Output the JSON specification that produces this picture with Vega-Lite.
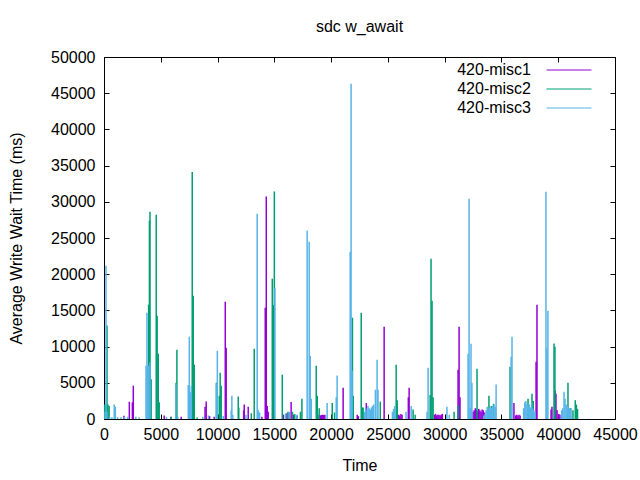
{
"$schema": "https://vega.github.io/schema/vega-lite/v6.json",
"width": 511, "height": 362,
"autosize": "none",
"padding": {"left": 104, "top": 57, "right": 25, "bottom": 61},
"background": "white",
"title": {"text": "sdc w_await", "fontSize": 16, "font": "Liberation Sans", "fontWeight": "normal", "color": "#000", "offset": 14, "anchor": "middle"},
"config": {
  "view": {"stroke": "#000", "strokeWidth": 1},
  "font": "Liberation Sans",
  "axis": {"domain": false, "grid": false, "tickColor": "#000", "tickSize": -5, "tickWidth": 1, "labelColor": "#000", "labelFontSize": 16, "titleFontSize": 16, "titleFontWeight": "normal", "titleColor": "#000", "labelFont": "Liberation Sans", "titleFont": "Liberation Sans", "labelOverlap": false, "labelFlush": false}
},
"data": {"values": [
{"s":"420-misc1","t":1760,"v":450},{"s":"420-misc1","t":2230,"v":2390},{"s":"420-misc1","t":2500,"v":2300},{"s":"420-misc1","t":2580,"v":4600},{"s":"420-misc1","t":4800,"v":250},{"s":"420-misc1","t":5300,"v":500},{"s":"420-misc1","t":5900,"v":300},{"s":"420-misc1","t":6800,"v":300},{"s":"420-misc1","t":8900,"v":1700},{"s":"420-misc1","t":9000,"v":2400},{"s":"420-misc1","t":9300,"v":400},{"s":"420-misc1","t":9700,"v":300},{"s":"420-misc1","t":10680,"v":16200},{"s":"420-misc1","t":10760,"v":9850},{"s":"420-misc1","t":12300,"v":1200},{"s":"420-misc1","t":12350,"v":2000},{"s":"420-misc1","t":12700,"v":1700},{"s":"420-misc1","t":13900,"v":300},{"s":"420-misc1","t":14200,"v":15370},{"s":"420-misc1","t":14290,"v":30740},{"s":"420-misc1","t":14380,"v":1800},{"s":"420-misc1","t":14460,"v":1000},{"s":"420-misc1","t":15800,"v":600},{"s":"420-misc1","t":16000,"v":700},{"s":"420-misc1","t":16100,"v":800},{"s":"420-misc1","t":16300,"v":900},{"s":"420-misc1","t":16480,"v":2340},{"s":"420-misc1","t":16700,"v":600},{"s":"420-misc1","t":17000,"v":500},{"s":"420-misc1","t":18950,"v":600},{"s":"420-misc1","t":19050,"v":500},{"s":"420-misc1","t":19150,"v":550},{"s":"420-misc1","t":19250,"v":600},{"s":"420-misc1","t":19350,"v":550},{"s":"420-misc1","t":19450,"v":600},{"s":"420-misc1","t":21060,"v":4320},{"s":"420-misc1","t":22300,"v":600},{"s":"420-misc1","t":22400,"v":400},{"s":"420-misc1","t":23100,"v":2200},{"s":"420-misc1","t":23500,"v":600},{"s":"420-misc1","t":24670,"v":12750},{"s":"420-misc1","t":25850,"v":600},{"s":"420-misc1","t":25950,"v":600},{"s":"420-misc1","t":26050,"v":500},{"s":"420-misc1","t":26150,"v":700},{"s":"420-misc1","t":26250,"v":600},{"s":"420-misc1","t":26800,"v":3000},{"s":"420-misc1","t":26870,"v":4320},{"s":"420-misc1","t":29100,"v":600},{"s":"420-misc1","t":29200,"v":700},{"s":"420-misc1","t":29300,"v":500},{"s":"420-misc1","t":29400,"v":600},{"s":"420-misc1","t":29500,"v":600},{"s":"420-misc1","t":29600,"v":500},{"s":"420-misc1","t":29700,"v":600},{"s":"420-misc1","t":29800,"v":700},{"s":"420-misc1","t":31180,"v":6800},{"s":"420-misc1","t":31270,"v":12750},{"s":"420-misc1","t":31350,"v":3000},{"s":"420-misc1","t":32500,"v":1000},{"s":"420-misc1","t":32600,"v":1200},{"s":"420-misc1","t":32700,"v":1500},{"s":"420-misc1","t":32800,"v":1300},{"s":"420-misc1","t":32900,"v":1100},{"s":"420-misc1","t":33000,"v":1400},{"s":"420-misc1","t":33100,"v":1200},{"s":"420-misc1","t":33200,"v":1000},{"s":"420-misc1","t":33300,"v":1300},{"s":"420-misc1","t":33400,"v":1200},{"s":"420-misc1","t":33500,"v":900},{"s":"420-misc1","t":36100,"v":2200},{"s":"420-misc1","t":36250,"v":500},{"s":"420-misc1","t":36350,"v":600},{"s":"420-misc1","t":36450,"v":500},{"s":"420-misc1","t":36550,"v":600},{"s":"420-misc1","t":36650,"v":500},{"s":"420-misc1","t":38050,"v":7900},{"s":"420-misc1","t":38130,"v":15790},{"s":"420-misc1","t":39370,"v":1300},{"s":"420-misc1","t":39450,"v":1700},{"s":"420-misc1","t":39720,"v":3900},{"s":"420-misc1","t":39800,"v":3500},{"s":"420-misc1","t":39900,"v":1200},{"s":"420-misc1","t":40050,"v":700},{"s":"420-misc1","t":40150,"v":600},
{"s":"420-misc2","t":60,"v":2000},{"s":"420-misc2","t":150,"v":2000},{"s":"420-misc2","t":264,"v":12930},{"s":"420-misc2","t":350,"v":2000},{"s":"420-misc2","t":450,"v":1800},{"s":"420-misc2","t":3930,"v":15790},{"s":"420-misc2","t":4000,"v":27380},{"s":"420-misc2","t":4050,"v":28630},{"s":"420-misc2","t":4150,"v":5500},{"s":"420-misc2","t":4600,"v":28200},{"s":"420-misc2","t":4680,"v":14270},{"s":"420-misc2","t":4780,"v":9020},{"s":"420-misc2","t":4860,"v":2300},{"s":"420-misc2","t":5900,"v":300},{"s":"420-misc2","t":6350,"v":5000},{"s":"420-misc2","t":6420,"v":9570},{"s":"420-misc2","t":7770,"v":34100},{"s":"420-misc2","t":7860,"v":17030},{"s":"420-misc2","t":7950,"v":7500},{"s":"420-misc2","t":8200,"v":200},{"s":"420-misc2","t":9900,"v":5000},{"s":"420-misc2","t":10150,"v":3200},{"s":"420-misc2","t":10230,"v":6400},{"s":"420-misc2","t":10320,"v":4600},{"s":"420-misc2","t":11820,"v":3100},{"s":"420-misc2","t":11870,"v":1600},{"s":"420-misc2","t":12970,"v":800},{"s":"420-misc2","t":13230,"v":9700},{"s":"420-misc2","t":14820,"v":19380},{"s":"420-misc2","t":14900,"v":15700},{"s":"420-misc2","t":14960,"v":15700},{"s":"420-misc2","t":15000,"v":31430},{"s":"420-misc2","t":15700,"v":6120},{"s":"420-misc2","t":16200,"v":1000},{"s":"420-misc2","t":16600,"v":1000},{"s":"420-misc2","t":16800,"v":700},{"s":"420-misc2","t":17300,"v":1000},{"s":"420-misc2","t":17430,"v":2800},{"s":"420-misc2","t":18690,"v":7360},{"s":"420-misc2","t":18780,"v":3200},{"s":"420-misc2","t":18950,"v":1500},{"s":"420-misc2","t":20100,"v":2200},{"s":"420-misc2","t":20300,"v":900},{"s":"420-misc2","t":21880,"v":13990},{"s":"420-misc2","t":21950,"v":3200},{"s":"420-misc2","t":22650,"v":14680},{"s":"420-misc2","t":22740,"v":1600},{"s":"420-misc2","t":22820,"v":1600},{"s":"420-misc2","t":24330,"v":2400},{"s":"420-misc2","t":25730,"v":7500},{"s":"420-misc2","t":25820,"v":2600},{"s":"420-misc2","t":27220,"v":1300},{"s":"420-misc2","t":27400,"v":600},{"s":"420-misc2","t":28720,"v":3300},{"s":"420-misc2","t":28800,"v":22130},{"s":"420-misc2","t":28890,"v":16340},{"s":"420-misc2","t":28980,"v":3000},{"s":"420-misc2","t":30830,"v":1000},{"s":"420-misc2","t":31180,"v":1900},{"s":"420-misc2","t":32850,"v":6950},{"s":"420-misc2","t":33900,"v":3200},{"s":"420-misc2","t":34100,"v":1800},{"s":"420-misc2","t":34300,"v":2100},{"s":"420-misc2","t":35760,"v":7230},{"s":"420-misc2","t":37340,"v":2800},{"s":"420-misc2","t":37690,"v":3500},{"s":"420-misc2","t":37800,"v":2500},{"s":"420-misc2","t":39630,"v":10440},{"s":"420-misc2","t":39710,"v":9980},{"s":"420-misc2","t":40860,"v":5010},{"s":"420-misc2","t":41100,"v":1500},{"s":"420-misc2","t":41300,"v":1200},{"s":"420-misc2","t":41500,"v":2600},{"s":"420-misc2","t":41600,"v":2000},{"s":"420-misc2","t":41700,"v":1400},
{"s":"420-misc3","t":100,"v":1000},{"s":"420-misc3","t":176,"v":21170},{"s":"420-misc3","t":250,"v":1000},{"s":"420-misc3","t":500,"v":250},{"s":"420-misc3","t":700,"v":250},{"s":"420-misc3","t":900,"v":2000},{"s":"420-misc3","t":1000,"v":1700},{"s":"420-misc3","t":1200,"v":250},{"s":"420-misc3","t":1500,"v":250},{"s":"420-misc3","t":1800,"v":300},{"s":"420-misc3","t":2100,"v":300},{"s":"420-misc3","t":2800,"v":300},{"s":"420-misc3","t":3100,"v":250},{"s":"420-misc3","t":3700,"v":7360},{"s":"420-misc3","t":3780,"v":14680},{"s":"420-misc3","t":3850,"v":7360},{"s":"420-misc3","t":3930,"v":7360},{"s":"420-misc3","t":4050,"v":7800},{"s":"420-misc3","t":5500,"v":300},{"s":"420-misc3","t":6330,"v":4880},{"s":"420-misc3","t":6500,"v":300},{"s":"420-misc3","t":7420,"v":4700},{"s":"420-misc3","t":7510,"v":11370},{"s":"420-misc3","t":7600,"v":3700},{"s":"420-misc3","t":7690,"v":4600},{"s":"420-misc3","t":8700,"v":300},{"s":"420-misc3","t":9200,"v":500},{"s":"420-misc3","t":9900,"v":4880},{"s":"420-misc3","t":9980,"v":9430},{"s":"420-misc3","t":10500,"v":400},{"s":"420-misc3","t":11200,"v":1200},{"s":"420-misc3","t":11260,"v":3220},{"s":"420-misc3","t":11350,"v":600},{"s":"420-misc3","t":12500,"v":600},{"s":"420-misc3","t":13490,"v":28350},{"s":"420-misc3","t":13580,"v":1200},{"s":"420-misc3","t":13700,"v":900},{"s":"420-misc3","t":15050,"v":18130},{"s":"420-misc3","t":16000,"v":800},{"s":"420-misc3","t":16300,"v":1000},{"s":"420-misc3","t":17000,"v":600},{"s":"420-misc3","t":17890,"v":26050},{"s":"420-misc3","t":18070,"v":24480},{"s":"420-misc3","t":18160,"v":8740},{"s":"420-misc3","t":18250,"v":2800},{"s":"420-misc3","t":19650,"v":2200},{"s":"420-misc3","t":20450,"v":3000},{"s":"420-misc3","t":20530,"v":6000},{"s":"420-misc3","t":21680,"v":23100},{"s":"420-misc3","t":21760,"v":46300},{"s":"420-misc3","t":21850,"v":6700},{"s":"420-misc3","t":22950,"v":1000},{"s":"420-misc3","t":23050,"v":1500},{"s":"420-misc3","t":23150,"v":1200},{"s":"420-misc3","t":23250,"v":1800},{"s":"420-misc3","t":23350,"v":1500},{"s":"420-misc3","t":23450,"v":1300},{"s":"420-misc3","t":23550,"v":1600},{"s":"420-misc3","t":23650,"v":1800},{"s":"420-misc3","t":23750,"v":2000},{"s":"420-misc3","t":23900,"v":4050},{"s":"420-misc3","t":24050,"v":8200},{"s":"420-misc3","t":24130,"v":4050},{"s":"420-misc3","t":25400,"v":1000},{"s":"420-misc3","t":25500,"v":1400},{"s":"420-misc3","t":25600,"v":1800},{"s":"420-misc3","t":26600,"v":1000},{"s":"420-misc3","t":27050,"v":1800},{"s":"420-misc3","t":28450,"v":1000},{"s":"420-misc3","t":28540,"v":7080},{"s":"420-misc3","t":30200,"v":1700},{"s":"420-misc3","t":30400,"v":600},{"s":"420-misc3","t":32060,"v":9020},{"s":"420-misc3","t":32150,"v":30420},{"s":"420-misc3","t":32240,"v":1500},{"s":"420-misc3","t":32320,"v":10400},{"s":"420-misc3","t":32400,"v":5000},{"s":"420-misc3","t":33450,"v":500},{"s":"420-misc3","t":33550,"v":700},{"s":"420-misc3","t":33650,"v":1200},{"s":"420-misc3","t":33750,"v":1700},{"s":"420-misc3","t":33850,"v":1400},{"s":"420-misc3","t":33950,"v":1500},{"s":"420-misc3","t":34050,"v":1300},{"s":"420-misc3","t":34150,"v":1600},{"s":"420-misc3","t":34250,"v":1800},{"s":"420-misc3","t":34350,"v":2000},{"s":"420-misc3","t":34450,"v":1700},{"s":"420-misc3","t":34530,"v":4750},{"s":"420-misc3","t":35850,"v":8600},{"s":"420-misc3","t":35930,"v":11370},{"s":"420-misc3","t":36950,"v":1500},{"s":"420-misc3","t":37050,"v":2300},{"s":"420-misc3","t":37150,"v":2500},{"s":"420-misc3","t":37250,"v":2000},{"s":"420-misc3","t":37350,"v":1800},{"s":"420-misc3","t":37450,"v":2000},{"s":"420-misc3","t":37550,"v":1600},{"s":"420-misc3","t":37650,"v":2200},{"s":"420-misc3","t":37750,"v":1500},{"s":"420-misc3","t":37850,"v":1200},{"s":"420-misc3","t":37950,"v":1000},{"s":"420-misc3","t":38920,"v":31390},{"s":"420-misc3","t":39000,"v":9890},{"s":"420-misc3","t":39090,"v":14960},{"s":"420-misc3","t":40300,"v":1200},{"s":"420-misc3","t":40400,"v":1500},{"s":"420-misc3","t":40510,"v":3770},{"s":"420-misc3","t":40600,"v":2800},{"s":"420-misc3","t":40700,"v":2000},{"s":"420-misc3","t":40800,"v":1800},{"s":"420-misc3","t":40900,"v":1700},{"s":"420-misc3","t":41000,"v":1500},{"s":"420-misc3","t":41100,"v":1300}
]},
"layer": [
  {
    "mark": {"type": "rule", "strokeWidth": 1.5},
    "encoding": {
      "x": {"field": "t", "type": "quantitative", "scale": {"domain": [0, 45000], "nice": false, "zero": false},
            "axis": {"title": "Time", "values": [0,5000,10000,15000,20000,25000,30000,35000,40000,45000], "format": "d", "labelPadding": 12, "titlePadding": 15}},
      "y": {"field": "v", "type": "quantitative", "scale": {"domain": [0, 50000], "nice": false},
            "axis": {"title": "Average Write Wait Time (ms)", "values": [0,5000,10000,15000,20000,25000,30000,35000,40000,45000,50000], "format": "d", "labelPadding": 14, "titlePadding": 26}},
      "y2": {"datum": 0},
      "color": {"field": "s", "type": "nominal",
                "scale": {"domain": ["420-misc1", "420-misc2", "420-misc3"], "range": ["#9400d3", "#009e73", "#56b4e9"]},
                "legend": {"title": null, "orient": "none", "legendX": 457, "legendY": 5, "symbolType": "M-4,0H4", "symbolSize": 126.5, "symbolStrokeWidth": 1, "symbolFillColor": "transparent", "labelAlign": "right", "labelOffset": -46, "labelFontSize": 16, "labelColor": "#000", "labelFont": "Liberation Sans", "rowPadding": 3, "labelLimit": 200}}
    }
  },
  {
    "mark": {"type": "rule", "opacity": 0},
    "encoding": {
      "x": {"field": "t", "type": "quantitative", "scale": {"domain": [0, 45000], "nice": false, "zero": false},
            "axis": {"orient": "top", "title": null, "labels": false, "values": [0,5000,10000,15000,20000,25000,30000,35000,40000,45000]}},
      "y": {"field": "v", "type": "quantitative", "scale": {"domain": [0, 50000], "nice": false},
            "axis": {"orient": "right", "title": null, "labels": false, "values": [0,5000,10000,15000,20000,25000,30000,35000,40000,45000,50000]}},
      "y2": {"datum": 0}
    }
  }
],
"resolve": {"axis": {"x": "independent", "y": "independent"}}
}
